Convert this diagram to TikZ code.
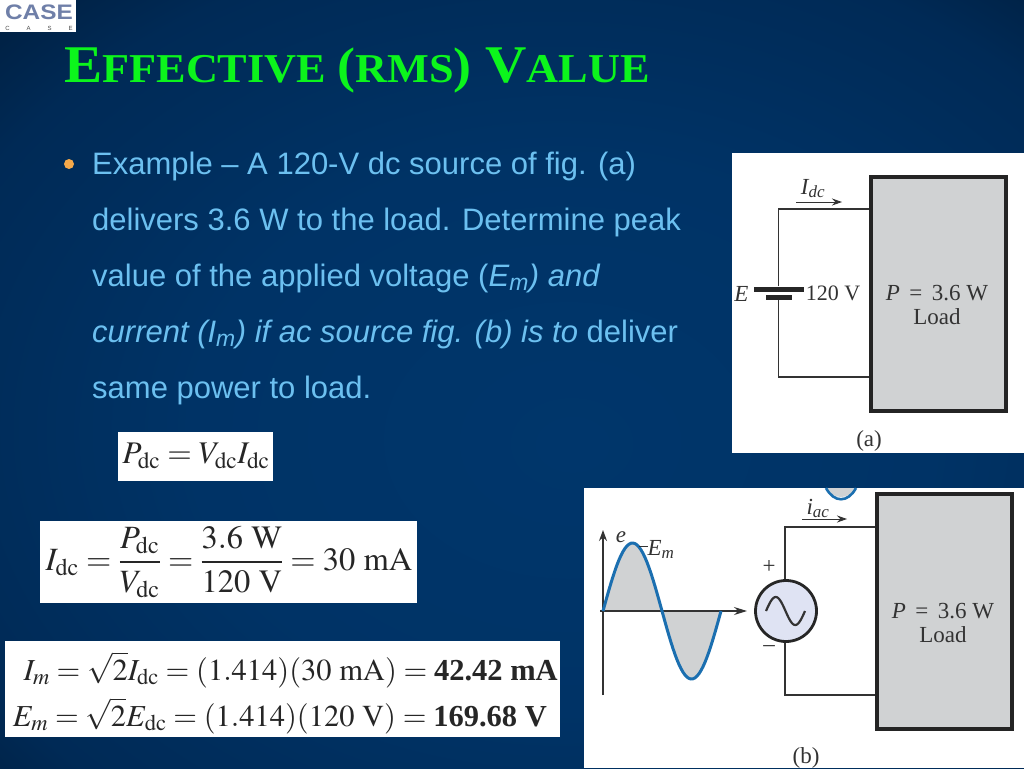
\documentclass[tikz,border=0pt]{standalone}
\usepackage{amsmath}
\usepackage{mathptmx}
\usepackage[no-math]{fontspec}
\setmainfont{Liberation Sans}
\newfontfamily\titlefont{Liberation Serif}
\newfontfamily\figfont[Ligatures=TeX]{Liberation Serif}
\usetikzlibrary{calc,arrows.meta}
\definecolor{loadgray}{HTML}{D0D2D3}
\definecolor{bodyblue}{HTML}{6CC0F0}
\definecolor{dotorange}{HTML}{F5A94A}
\definecolor{headgreen}{HTML}{0CF51C}
\definecolor{sineblue}{HTML}{1B6FB0}
\definecolor{srcfill}{HTML}{DFE3F3}
\definecolor{inkgray}{HTML}{333333}
\definecolor{logoblue}{HTML}{6F7FA8}
\definecolor{glowa}{HTML}{00366B}
\definecolor{glowb}{HTML}{003366}
\definecolor{glowc}{HTML}{002A56}
\definecolor{glowd}{HTML}{00152C}
\definecolor{glowe}{HTML}{000814}
\definecolor{glowf}{HTML}{000003}
\pgfdeclareradialshading{slideglow}{\pgfpoint{3bp}{-4bp}}{
  color(0bp)=(glowa);
  color(18bp)=(glowb);
  color(32bp)=(glowc);
  color(44bp)=(glowd);
  color(52bp)=(glowe);
  color(62bp)=(glowf);
  color(100bp)=(black)}
\tikzstyle{slideline}=[
  anchor=base west,inner sep=0pt,text=bodyblue,font=\fontsize{31}{31}\selectfont
]
\tikzstyle{panel}=[
  draw=none,fill=white,anchor=north west,inner sep=0pt
]
\tikzstyle{eqbox}=[
  panel
]
\tikzstyle{eqline}=[
  inner sep=0pt,text=black!85,font=\fontsize{32.5}{33}\selectfont\figfont
]
\tikzstyle{eqsmall}=[
  eqline,anchor=base east,font=\fontsize{30.5}{31}\selectfont\figfont
]
\tikzstyle{loadbox}=[
  draw=inkgray!70!black,line width=4,fill=loadgray,inner sep=0pt
]
\tikzstyle{figtext}=[
  inner sep=0pt,anchor=base,text=inkgray,font=\fontsize{23}{23}\selectfont\figfont
]
\tikzstyle{wire}=[
  draw=inkgray,line width=1.3
]
\tikzstyle{plate}=[
  fill=black!85,inner sep=0pt,minimum height=5
]
\tikzstyle{flow}=[
  draw=inkgray,line width=1,-{Stealth[length=10pt,width=7pt]}
]
\tikzstyle{axis}=[
  draw=inkgray,line width=1.3,-{Stealth[length=11pt,width=8pt]}
]
\begin{document}
\begin{tikzpicture}[x=1pt,y=-1pt]
    \useasboundingbox (0,0) rectangle (1024,768);
    \shade [shading=slideglow] (0,0) rectangle (1024,768);
    % heading
    \node (logobox) at (0,0) [panel,minimum width=76,minimum height=32] {};
    \node (logomark) at (39,12) [inner sep=0pt,text=logoblue,font=\fontsize{21}{21}\selectfont\bfseries] {\scalebox{1.16}[1]{CASE}};
    \node (logoname) at (39,28) [inner sep=0pt,text=black!70,font=\fontsize{6}{6}\selectfont] {C\hspace{17pt}A\hspace{17pt}S\hspace{17pt}E};
    \node (heading) at (64,82) [anchor=base west,inner sep=0pt,text=headgreen] {\scalebox{1.08}[1]{\titlefont\bfseries
      \fontsize{53}{53}\selectfont E\fontsize{41}{41}\selectfont FFECTIVE \fontsize{50}{50}\selectfont(\fontsize{41}{41}\selectfont RMS\fontsize{50}{50}\selectfont) \fontsize{53}{53}\selectfont V\fontsize{41}{41}\selectfont ALUE}};
    % slide text
    \node (dot) at (69,164) [circle,fill=dotorange,inner sep=0pt,minimum size=10] {};
    \node (line1) at (92,174) [slideline] {Example -- A 120-V dc source of fig. (a)};
    \node (line2) at (92,230) [slideline] {delivers 3.6 W to the load. Determine peak};
    \node (line3) at (92,286) [slideline] {value of the applied voltage (\textit{E\textsubscript{m}) and}};
    \node (line4) at (92,342) [slideline] {\textit{current (I\textsubscript{m}) if ac source fig. (b) is to} deliver};
    \node (line5) at (92,398) [slideline] {same power to load.};
    % equations
    \node (eqpbox) at (118,432) [eqbox,minimum width=155,minimum height=49] {};
    \node (eqp) at (196,456) [eqline,font=\fontsize{31.5}{32}\selectfont\figfont] {$P_{\mathrm{dc}} = V_{\mathrm{dc}}I_{\mathrm{dc}}$};
    \node (eqibox) at (40,521) [eqbox,minimum width=377,minimum height=82] {};
    \node (eqi) at (229,562) [eqline] {$I_{\mathrm{dc}} = \dfrac{P_{\mathrm{dc}}}{V_{\mathrm{dc}}} = \dfrac{3.6\ \mathrm{W}}{120\ \mathrm{V}} = 30\ \mathrm{mA}$};
    \node (eqmbox) at (5,641) [eqbox,minimum width=555,minimum height=96] {};
    \node (eqim) at (558,680) [eqsmall] {$I_m = \sqrt{2}I_{\mathrm{dc}} = (1.414)(30\ \mathrm{mA}) = \mbox{\textbf{42.42 mA}}$};
    \node (eqem) at (547,726) [eqsmall] {$E_m = \sqrt{2}E_{\mathrm{dc}} = (1.414)(120\ \mathrm{V}) = \mbox{\textbf{169.68 V}}$};
    % fig (a)
    \node (panela) at (732,153) [panel,minimum width=292,minimum height=300] {};
    \node (loada) at (938,293.5) [loadbox,minimum width=135,minimum height=234] {};
    \coordinate (topa) at (778.5,209);
    \coordinate (bota) at (778.5,377);
    \node (longplate) at (778.5,289) [plate,minimum width=50] {};
    \node (shortplate) at (778.5,297) [plate,minimum width=26] {};
    \draw [wire] (longplate) -- (topa) -- (topa -| loada.west);
    \draw [wire] (shortplate) -- (bota) -- (bota -| loada.west);
    \coordinate (flowa1) at (796,202);
    \coordinate (flowa2) at (842,202);
    \draw [flow] (flowa1) -- (flowa2);
    \node (idc) at (813,194) [figtext] {\textit{I\textsubscript{dc}}};
    \node (ea) at (741.5,301) [figtext] {\textit{E}};
    \node (va) at (833,300) [figtext,font=\fontsize{22}{22}\selectfont\figfont] {120 V};
    \node (pa) at (937,300) [figtext] {\textit{P}\, =\, 3.6 W};
    \node (la) at (937,324) [figtext] {Load};
    \node (capa) at (869,446) [figtext] {(a)};
    % fig (b)
    \node (panelb) at (584,488) [panel,minimum width=440,minimum height=280] {};
    \fill [loadgray] (826,488) .. controls (834,500) and (848,500) .. (856,488) -- cycle;
    \draw [sineblue,line width=2.6] (826,488) .. controls (834,503) and (848,503) .. (856,488);
    \node (loadb) at (944,611) [loadbox,minimum width=135,minimum height=235] {};
    \coordinate (topb) at (785,527);
    \coordinate (botb) at (785,695);
    \draw [wire] (topb |- 0,579) -- (topb) -- (topb -| loadb.west);
    \draw [wire] (botb |- 0,643) -- (botb) -- (botb -| loadb.west);
    \node (source) at (786,611) [circle,draw=black!85,line width=2.8,fill=srcfill,inner sep=0pt,minimum size=61] {};
    \draw [line width=2.2,black!80] plot [domain=0:39,samples=40,smooth] ({766+\x},{611-14*sin(\x/39*360)});
    \node (plus) at (769,567) [figtext,anchor=center] {+};
    \node (minus) at (769,649) [figtext,anchor=center] {--};
    \fill [loadgray] plot [domain=0:118,samples=60] ({603+\x},{611-68*sin(\x/118*360)}) -- cycle;
    \coordinate (axisup) at (603,530);
    \coordinate (axisdown) at (603,695);
    \coordinate (axisleft) at (600,611);
    \coordinate (axistip) at (747,611);
    \draw [axis] (axisdown) -- (axisup);
    \draw [axis,-{Stealth[length=13pt,width=8pt]}] (axisleft) -- (axistip);
    \draw [sineblue,line width=3] plot [domain=0:118,samples=60] ({603+\x},{611-68*sin(\x/118*360)});
    \coordinate (peak) at (639,546);
    \coordinate (peaktag) at (648,546);
    \draw [wire,line width=0.8] (peak) -- (peaktag);
    \node (e) at (621,542) [figtext] {\textit{e}};
    \node (em) at (661,555) [figtext] {\textit{E\textsubscript{m}}};
    \coordinate (flowb1) at (802,519);
    \coordinate (flowb2) at (847,519);
    \draw [flow] (flowb1) -- (flowb2);
    \node (iac) at (818,514) [figtext] {\textit{i\textsubscript{ac}}};
    \node (pb) at (943,618) [figtext] {\textit{P}\, =\, 3.6 W};
    \node (lb) at (943,642) [figtext] {Load};
    \node (capb) at (806,763) [figtext] {(b)};
\end{tikzpicture}
\end{document}
